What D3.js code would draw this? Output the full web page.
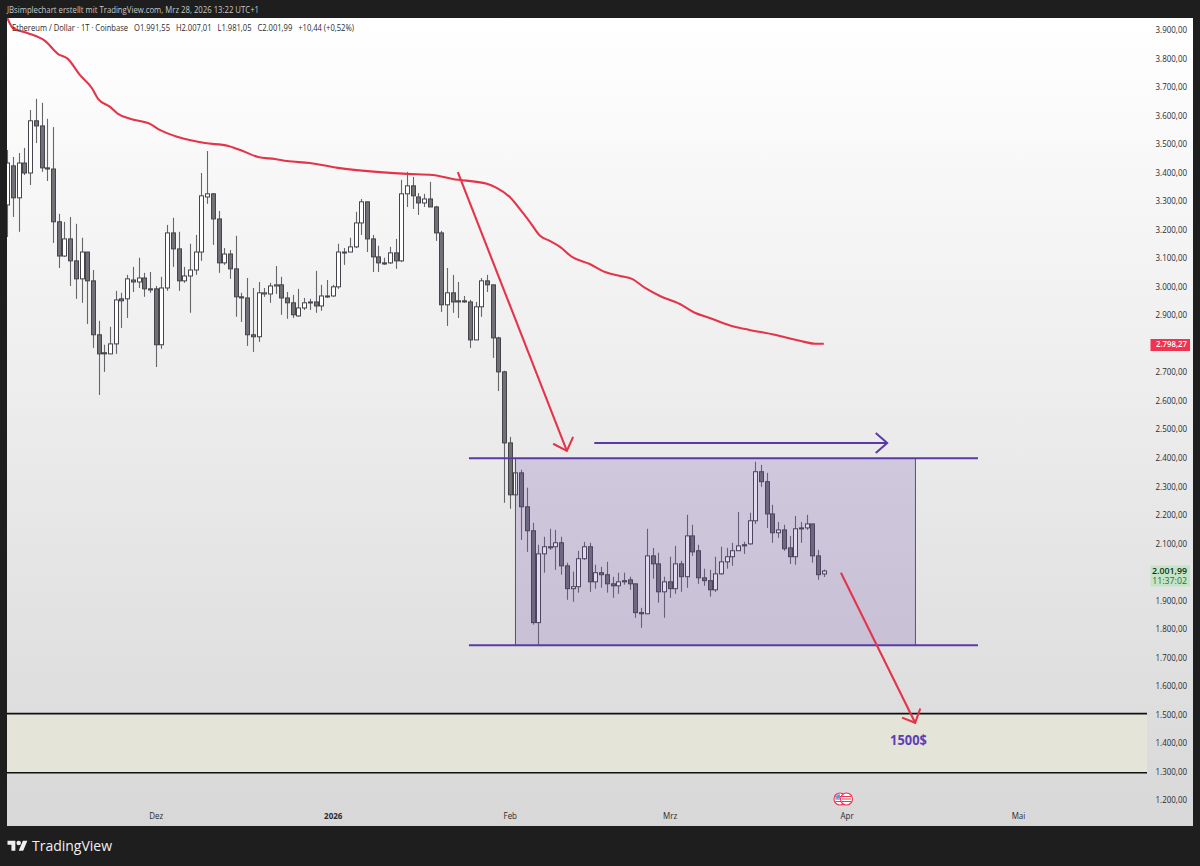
<!DOCTYPE html>
<html><head><meta charset="utf-8">
<style>
html,body{margin:0;padding:0;background:#1e1e1e}
svg{display:block}
text{font-family:"Open Sans","Noto Sans",sans-serif}
</style>
<script src="https://cdnjs.cloudflare.com/ajax/libs/d3/7.8.5/d3.min.js"></script>
</head><body><svg id="c" width="1200" height="866"></svg>
<script>
const opens=[3285,3422,3310,3432,3397,3580,3562,3415,3411,3226,3106,3166,3089,3026,3120,3019,2830,2767,2763,2798,2956,2956,3022,3015,3029,2991,2991,2795,2994,3187,3131,3019,3036,3057,3120,3313,3324,3236,3082,3113,3061,2963,2959,2830,2823,2973,2973,3001,3005,2959,2942,2896,2924,2945,2945,2931,2966,2966,2998,3120,3120,3138,3222,3296,3166,3103,3082,3082,3117,3089,3324,3352,3313,3292,3306,3278,3187,2935,2977,2949,2949,2945,2812,2928,3019,3005,2819,2700,2451,2269,2346,2227,2143,1821,2062,2087,2087,2101,2020,1940,1947,2045,2087,1964,1996,1989,1957,1950,1968,1971,1957,1856,1852,2055,2027,1929,1964,1940,2027,1982,2125,2073,1978,1968,1936,1992,2034,2052,2073,2094,2097,2178,2350,2315,2202,2136,2146,2083,2052,2153,2153,2167,2055,1991.55];
const highs=[3478,3453,3467,3485,3618,3657,3643,3587,3558,3254,3226,3243,3219,3170,3120,3057,2879,2795,2858,2984,2977,3040,3068,3100,3047,3050,3001,3033,3215,3240,3191,3068,3149,3180,3397,3474,3327,3264,3134,3127,3177,2977,3029,2994,3015,2994,3012,3071,3033,2980,2970,2991,2959,2956,3054,3005,3022,3005,3149,3134,3170,3261,3306,3296,3180,3142,3100,3138,3166,3373,3401,3383,3327,3324,3366,3282,3194,3064,3040,3015,2966,2952,2945,3029,3040,3005,2823,2704,2472,2399,2357,2294,2171,2094,2122,2150,2146,2122,2031,2000,2073,2104,2101,2024,2017,2034,1982,1996,1996,1982,1957,1873,2150,2083,2066,1982,2052,2090,2038,2199,2164,2094,2010,2006,2052,2087,2083,2101,2209,2104,2206,2385,2374,2346,2234,2174,2164,2125,2195,2174,2199,2167,2076,2007.01];
const lows=[3173,3243,3191,3390,3355,3502,3401,3369,3152,3064,3103,3001,2956,2942,2868,2784,2619,2700,2763,2763,2854,2889,2980,2994,2963,2977,2717,2781,2984,3068,2984,3012,2907,3040,3089,3289,3145,3047,3075,3026,2893,2875,2791,2770,2805,2963,2942,2973,2900,2886,2889,2893,2917,2917,2907,2914,2959,2963,2991,3075,3120,3134,3180,3120,3050,3050,3075,3078,3061,3085,3278,3271,3250,3278,3278,3159,2910,2861,2907,2889,2942,2784,2812,2893,2980,2749,2633,2241,2220,2269,2111,2069,1814,1743,1996,2076,2006,1989,1901,1894,1926,2041,1929,1940,1943,1926,1908,1922,1954,1936,1838,1803,1852,1975,1891,1838,1908,1922,1929,1943,2055,1957,1950,1912,1929,1989,2010,2020,2073,2062,2094,2167,2297,2153,2101,2118,2073,2027,2024,2101,2146,2031,1971,1981.05];
const closes=[3432,3310,3432,3397,3580,3562,3415,3411,3226,3106,3166,3089,3026,3120,3019,2830,2763,2763,2798,2952,2949,3026,3015,3029,2991,2987,2795,2994,3187,3131,3019,3036,3057,3120,3317,3324,3236,3082,3113,3061,2963,2959,2830,2823,2977,2977,3001,3005,2959,2942,2900,2924,2942,2942,2931,2966,2963,2998,3120,3117,3138,3222,3296,3166,3103,3082,3078,3117,3089,3324,3352,3317,3292,3306,3278,3187,2935,2977,2945,2945,2945,2812,2928,3019,3005,2819,2700,2451,2269,2346,2227,2143,1821,2062,2087,2083,2101,2020,1940,1947,2045,2087,1964,1996,1989,1957,1950,1964,1964,1957,1856,1852,2055,2027,1929,1964,1940,2027,1982,2125,2069,1978,1968,1936,1992,2034,2052,2073,2090,2090,2178,2350,2315,2202,2136,2146,2080,2052,2150,2150,2167,2055,1989,2001.99];

const maIndex=[0,1,3.5,6.6,8.9,10.6,12.7,14.8,15.9,18,19.4,21.5,25,26.7,29.9,34.6,38.7,41.6,43.9,46.9,49,53,57.9,64.7,70,74.5,78,84,85.7,88,90.3,91.5,93.3,95,96.8,98.9,102,104.7,107.3,109.4,111.7,114.3,117.8,120.4,123,127.4,130,134.4,138.8,141.5,143];
const maValue=[3940,3905,3888,3860,3814,3797,3741,3695,3657,3629,3604,3587,3569,3548,3523,3502,3492,3471,3453,3446,3439,3432,3415,3401,3394,3390,3376,3359,3345,3313,3257,3226,3177,3159,3138,3103,3078,3050,3036,3026,2994,2966,2938,2907,2889,2858,2847,2830,2809,2798.5,2798.27];

const priceTicks=[3900,3800,3700,3600,3500,3400,3300,3200,3100,3000,2900,2700,2600,2500,2400,2300,2200,2100,1900,1800,1700,1600,1500,1400,1300,1200];
const monthTicks=[26,57,88,116,147,177];
const monthLabels=["Dez","2026","Feb","Mrz","Apr","Mai"];
const legendTexts=["Ethereum / Dollar · 1T · Coinbase","O1.991,55","H2.007,01","L1.981,05","C2.001,99","+10,44 (+0,52%)"];
const boxStart=89, boxEnd=159.05, boxHigh=2397, boxLow=1742, rangeLineStart=80.85, rangeLineEnd=170;
const zoneHigh=1502, zoneLow=1295;
const lastMa=2798.27, lastClose=2001.99;
const arrowDownOne=[[78.9,3400],[98,2423]];
const arrowDownOneHead=[[95.6,2448],[99.1,2472]];
const arrowDownTwo=[[146,1996],[159,1470]];
const arrowDownTwoHead=[[156.7,1488],[159.9,1520]];
const arrowSide=[[102.8,2451],[154.1,2451]];
const arrowSideHead=[[152.1,2486],[152.1,2416]];

const W=1200,H=866,L=7,T=18,R=1193,B=826;
const x=d3.scaleLinear().domain([0,143]).range([7.3,823.8]);
const y=d3.scaleLinear().domain([1200,3900]).range([799.8,29.5]);
const de=d3.formatLocale({decimal:",",thousands:".",grouping:[3],currency:["","$"]});
const fmt=de.format(",.2f");
const svg=d3.select("#c");
const squeeze=(sel,f)=>sel.each(function(){this.setAttribute("textLength",(this.getComputedTextLength()*f).toFixed(1));this.setAttribute("lengthAdjust","spacingAndGlyphs");});
const defs=svg.append("defs");
const g=defs.append("linearGradient").attr("id","bg").attr("x1",0).attr("x2",0).attr("y1",0).attr("y2",1);
g.append("stop").attr("offset","0%").attr("stop-color","#ffffff");
g.append("stop").attr("offset","100%").attr("stop-color","#d8d8d8");
defs.append("clipPath").attr("id","plot").append("rect").attr("x",L).attr("y",T).attr("width",R-L).attr("height",B-T);

svg.append("rect").attr("width",W).attr("height",H).attr("fill","#1e1e1e");
svg.append("rect").attr("x",L).attr("y",T).attr("width",R-L).attr("height",B-T).attr("fill","url(#bg)");
const plot=svg.append("g").attr("clip-path","url(#plot)");

// zone
plot.append("rect").attr("x",L).attr("width",1147-L).attr("y",y(zoneHigh)).attr("height",y(zoneLow)-y(zoneHigh)).attr("fill","#e4e4d8");
[zoneHigh,zoneLow].forEach(v=>plot.append("line").attr("x1",L).attr("x2",1147).attr("y1",y(v)).attr("y2",y(v)).attr("stroke","#111").attr("stroke-width",1.6));

// candles
const idx=d3.range(opens.length);
const cw=4;
plot.append("g").selectAll("line").data(idx).join("line")
 .attr("x1",i=>Math.round(x(i))+.5).attr("x2",i=>Math.round(x(i))+.5)
 .attr("y1",i=>y(highs[i])).attr("y2",i=>y(lows[i]))
 .attr("stroke","#666668").attr("stroke-width",1.1);
plot.append("g").selectAll("rect").data(idx).join("rect")
 .attr("x",i=>Math.round(x(i))-cw/2+.5).attr("width",cw)
 .attr("y",i=>Math.min(y(opens[i]),y(closes[i])))
 .attr("height",i=>Math.max(1,Math.abs(y(opens[i])-y(closes[i]))))
 .attr("fill",i=>closes[i]>=opens[i]?"#ffffff":"#707076")
 .attr("stroke","#44444a").attr("stroke-width",1);

// range box
plot.append("rect").attr("x",x(boxStart)).attr("width",x(boxEnd)-x(boxStart)).attr("y",y(boxHigh)).attr("height",y(boxLow)-y(boxHigh))
 .attr("fill","#6a47b0").attr("fill-opacity",.2);
[boxStart,boxEnd].forEach(v=>plot.append("line").attr("x1",x(v)).attr("x2",x(v)).attr("y1",y(boxHigh)).attr("y2",y(boxLow)).attr("stroke","#55555f").attr("stroke-width",1));
[boxHigh,boxLow].forEach(v=>plot.append("line").attr("x1",x(rangeLineStart)).attr("x2",x(rangeLineEnd)).attr("y1",y(v)).attr("y2",y(v)).attr("stroke","#5b3aa8").attr("stroke-width",2));

// moving average
plot.append("path").attr("d",d3.line().x((d,i)=>x(maIndex[i])).y(d=>y(d)).curve(d3.curveMonotoneX)(maValue))
 .attr("fill","none").attr("stroke","#e5344a").attr("stroke-width",2.1).attr("stroke-linejoin","round");

// arrows
const ln=d3.line().x(d=>x(d[0])).y(d=>y(d[1]));
function arrow(shaft,head,color,w){
  plot.append("path").attr("d",ln(shaft)).attr("fill","none").attr("stroke",color).attr("stroke-width",w);
  const t=shaft[1];
  plot.append("path").attr("d",ln([head[0],t,head[1]])).attr("fill","none").attr("stroke",color).attr("stroke-width",w);
}
arrow(arrowDownOne,arrowDownOneHead,"#e5344a",2.1);
arrow(arrowDownTwo,arrowDownTwoHead,"#e5344a",2.1);
arrow(arrowSide,arrowSideHead,"#5b3aa8",2);

plot.append("text").attr("x",908.5).attr("y",745).attr("text-anchor","middle").attr("fill","#5e3fb5").attr("font-size",14).attr("font-weight",700).text("1500$").call(squeeze,.92);

// axes
const ya=svg.append("g").attr("transform","translate(1187,0)").call(d3.axisLeft(y).tickValues(priceTicks).tickSize(0).tickPadding(0).tickFormat(fmt));
ya.select(".domain").remove();
ya.selectAll("text").attr("fill","#2a2a2e").attr("font-size",9.5).attr("font-family",'"Open Sans"').call(squeeze,.84);
const xa=svg.append("g").attr("transform","translate(0,812.5)").call(d3.axisBottom(x).tickValues(monthTicks).tickSize(0).tickPadding(0).tickFormat((d,i)=>monthLabels[i]));
xa.select(".domain").remove();
xa.selectAll("text").attr("fill","#2a2a2e").attr("font-size",9.5).attr("font-weight",(d,i)=>monthLabels[i]==="2026"?700:400).call(squeeze,.84);

// price tags
svg.append("rect").attr("x",1150.5).attr("y",339).attr("width",39.5).attr("height",12).attr("fill","#ef3350");
svg.append("text").attr("x",1187).attr("y",y(lastMa)+3.6).attr("text-anchor","end").attr("fill","#fff").attr("font-size",9.5).attr("font-weight",600).text(fmt(lastMa)).call(squeeze,.82);
svg.append("rect").attr("x",1150.5).attr("y",565.5).attr("width",39.5).attr("height",21).attr("fill","#c4e4c6");
const tagText=svg.append("text").attr("text-anchor","end").attr("font-size",8.8);
tagText.append("tspan").attr("x",1187).attr("y",y(lastClose)+3).attr("fill","#12301a").attr("font-weight",600).text(fmt(lastClose));
tagText.append("tspan").attr("x",1187).attr("y",y(lastClose)+13.2).attr("fill","#2f6a3c").text("11:37:02");

// header
svg.append("text").attr("x",7).attr("y",13).attr("fill","#c8c8c8").attr("font-size",9.5).attr("textLength",252).attr("lengthAdjust","spacingAndGlyphs").text("JBsimplechart erstellt mit TradingView.com, Mrz 28, 2026 13:22 UTC+1");
svg.append("text").attr("x",12).attr("y",31).attr("fill","#2a2a2e").attr("font-size",9.5).style("white-space","pre").attr("textLength",342).attr("lengthAdjust","spacingAndGlyphs").text(legendTexts.join("   "));

// flag marker
const flag=svg.append("g").attr("transform","translate(0,799)");
[[840],[846.5]].forEach(([cx],k)=>{
  flag.append("circle").attr("cx",cx).attr("r",6).attr("fill","#fff").attr("stroke","#ef3350").attr("stroke-width",1.1);
  [-2.5,0,2.5].forEach(d=>flag.append("line").attr("x1",cx-4.5).attr("x2",cx+4.5).attr("y1",d).attr("y2",d).attr("stroke","#ef3350").attr("stroke-width",1));
});
flag.append("path").attr("d","M835.2 -0.5A4.8 4.8 0 0 1 840 -4.8V-0.5Z").attr("fill","#5b9bf0");

// logo
const logo=svg.append("g").attr("transform","translate(7.5,838.5) scale(0.56)").attr("fill","#f0f0f0");
logo.append("path").attr("d","M14 22H7V11H0V4h14v18ZM28 22h-8l7.5-18h8L28 22Z");
logo.append("circle").attr("cx",20).attr("cy",8).attr("r",4);
svg.append("text").attr("x",32).attr("y",851).attr("fill","#f0f0f0").attr("font-size",15).attr("font-weight",500).attr("font-family","Inter").attr("textLength",80).attr("lengthAdjust","spacingAndGlyphs").text("TradingView");
</script></body></html>
